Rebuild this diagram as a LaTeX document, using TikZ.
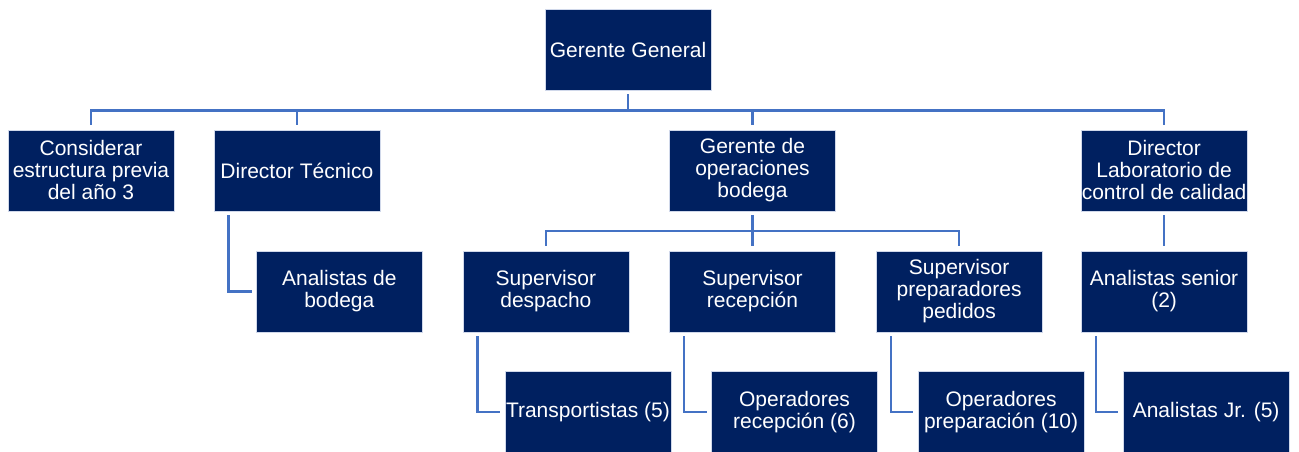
\documentclass[tikz,border=0pt]{standalone}
\usepackage{fontspec}
\setmainfont{Liberation Sans}
\usepackage{xcolor}
\usepackage{tikz}
\usetikzlibrary{positioning}
\definecolor{Navy}{HTML}{002060}
\definecolor{BoxEdge}{HTML}{D0D8EA}
\definecolor{LinkBlue}{HTML}{4472C4}
\tikzset{
  box/.style={draw=BoxEdge, line width=0.6pt, fill=Navy, text=white, align=center,
    minimum width=166pt, minimum height=81pt, inner xsep=0pt, inner ysep=2pt,
    font=\fontsize{21}{22}\selectfont},
  link/.style={draw=LinkBlue, line width=2.4pt, shorten <=4pt, shorten >=4.5pt}
}
\begin{document}
\begin{tikzpicture}[x=1pt, y=-1pt, node distance=39.3pt]
  \useasboundingbox (0,0) rectangle (1299,452);
  % top
  \node[box] (gg) at (628,49.5) {Gerente General};
  % first level
  \node[box, below=of gg, xshift=124.5pt] (gop) {Gerente de\\operaciones\\bodega};
  \node[box, left=289pt of gop] (dt) {Director Técnico};
  \node[box, left=of dt] (cons) {Considerar\\estructura previa\\del año 3};
  \node[box, right=245pt of gop] (dl) {Director\\Laboratorio de\\control de calidad};
  % second level
  \node[box, below=of gop] (srec) {Supervisor\\recepción};
  \node[box, left=40pt of srec] (sdes) {Supervisor\\despacho};
  \node[box, right=40pt of srec] (sprep) {Supervisor\\preparadores\\pedidos};
  \node[box, left=40pt of sdes] (anb) {Analistas de\\bodega};
  \node[box, below=of dl] (asen) {Analistas senior\\(2)};
  % third level
  \node[box, below=of sdes, xshift=42pt] (trans) {Transportistas (5)};
  \node[box, below=of srec, xshift=42pt] (orec) {Operadores\\recepción (6)};
  \node[box, below=of sprep, xshift=42pt] (oprep) {Operadores\\preparación (10)};
  \node[box, below=of asen, xshift=42pt] (ajr) {Analistas Jr. (5)};

  % buses
  \foreach \c in {cons, dt, gop, dl}
    \draw[link] (gg.south) -- ++(0,-20pt) -| (\c.north);
  \foreach \c in {sdes, srec, sprep}
    \draw[link] (gop.south) -- ++(0,-20pt) -| (\c.north);
  \draw[link] (dl) -- (asen);

  % elbows
  \draw[link] ([xshift=15pt]dt.south west) |- (anb.west);
  \draw[link] ([xshift=15pt]sdes.south west) |- (trans.west);
  \draw[link] ([xshift=15pt]srec.south west) |- (orec.west);
  \draw[link] ([xshift=15pt]sprep.south west) |- (oprep.west);
  \draw[link] ([xshift=15pt]asen.south west) |- (ajr.west);
\end{tikzpicture}
\end{document}
